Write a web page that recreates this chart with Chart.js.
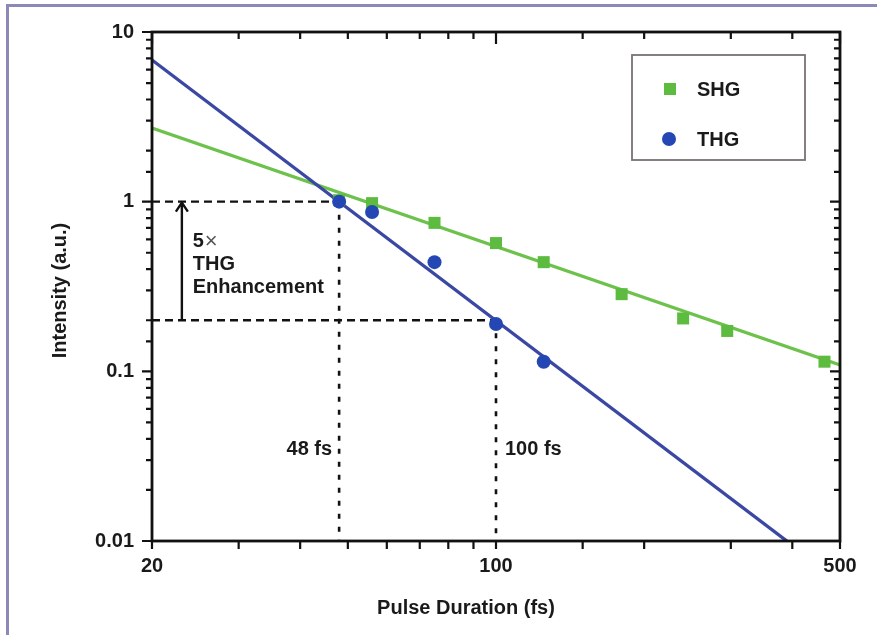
<!DOCTYPE html>
<html>
<head>
<meta charset="utf-8">
<title>Pulse Duration vs Intensity</title>
<script src="https://cdn.jsdelivr.net/npm/chart.js@4.4.1/dist/chart.umd.min.js"></script>
<style>
    html, body { margin: 0; padding: 0; background: #fff; }
    #wrap { position: relative; width: 877px; height: 635px; overflow: hidden; background: #fff; }
    #frame { position: absolute; left: 6px; top: 4px; width: 900px; height: 700px;
             border-top: 3px solid #8a89b8; border-left: 3px solid #8a89b8; }
    canvas { position: absolute; left: 0; top: 0; }
</style>
</head>
<body>
<div id="wrap">
    <div id="frame"></div>
    <canvas id="pulseChart" width="877" height="635"></canvas>
</div>
<script>
// measured points
const shgDuration  = [48, 56, 75, 100, 125, 180, 240, 295, 465];
const shgIntensity = [1.02, 0.98, 0.75, 0.57, 0.44, 0.285, 0.205, 0.173, 0.114];
const thgDuration  = [48, 56, 75, 100, 125];
const thgIntensity = [1.0, 0.87, 0.44, 0.19, 0.114];

// fitted lines (end points)
const shgFitDuration  = [20, 500];
const shgFitIntensity = [2.72, 0.109];
const thgFitDuration  = [20, 390];
const thgFitIntensity = [6.84, 0.01];

// dashed guides: [duration, intensity] pairs
const guideHorizontal = [[[20, 1], [48, 1]], [[20, 0.2], [100, 0.2]]];
const guideVertical   = [[[48, 1], [48, 0.01]], [[100, 0.2], [100, 0.01]]];

// enhancement arrow
const arrowDuration = 23;
const arrowFrom = 0.2;
const arrowTo = 1;

const xTickLabels = [20, 100, 500];
const yTickLabels = [0.01, 0.1, 1, 10];

const SHG_COLOR = '#5dbb3f';
const SHG_LINE = '#6cc24a';
const THG_COLOR = '#2447b3';
const THG_LINE = '#3a48a3';
const FONT = "'Liberation Sans', Arial, Helvetica, sans-serif";

function toPoints(xs, ys) {
    return xs.map((x, i) => ({ x: x, y: ys[i] }));
}

function pairsToPoints(seg) {
    return seg.map(p => ({ x: p[0], y: p[1] }));
}

function isLabel(list, v) {
    return list.some(l => Math.abs(l - v) / l < 1e-6);
}

const guideSets = [];
guideHorizontal.forEach(seg => guideSets.push({
    type: 'line', data: pairsToPoints(seg), borderColor: '#111', borderWidth: 2.4,
    borderDash: [8, 5], pointRadius: 0, fill: false
}));
guideVertical.forEach(seg => guideSets.push({
    type: 'line', data: pairsToPoints(seg), borderColor: '#111', borderWidth: 2.6,
    borderDash: [5, 8], pointRadius: 0, fill: false
}));

// text notes placed in data coordinates
const notes = [
    { text: '48 fs', x: 48, y: 0.0344, align: 'right', dx: -7 },
    { text: '100 fs', x: 100, y: 0.0344, align: 'left', dx: 9 },
    { text: 'THG', x: 24.2, y: 0.424, align: 'left', dx: 0 },
    { text: 'Enhancement', x: 24.2, y: 0.314, align: 'left', dx: 0 }
];

const framePlugin = {
    id: 'framePlugin',
    afterDraw(chart) {
        const ctx = chart.ctx;
        const a = chart.chartArea;
        const xs = chart.scales.x;
        const ys = chart.scales.y;
        ctx.save();

        // arrow
        const ax = xs.getPixelForValue(arrowDuration);
        const ay0 = ys.getPixelForValue(arrowFrom);
        const ay1 = ys.getPixelForValue(arrowTo);
        ctx.strokeStyle = '#111';
        ctx.lineWidth = 2.4;
        ctx.beginPath();
        ctx.moveTo(ax, ay0);
        ctx.lineTo(ax, ay1 + 1);
        ctx.moveTo(ax - 6, ay1 + 10);
        ctx.lineTo(ax, ay1 + 1);
        ctx.lineTo(ax + 6, ay1 + 10);
        ctx.stroke();

        // box
        ctx.lineWidth = 2.8;
        ctx.strokeStyle = '#111';
        ctx.strokeRect(a.left, a.top, a.right - a.left, a.bottom - a.top);

        // tick marks
        ctx.lineWidth = 2.2;
        ctx.beginPath();
        xs.ticks.forEach(t => {
            const px = xs.getPixelForValue(t.value);
            const major = isLabel(xTickLabels, t.value);
            ctx.moveTo(px, a.top);
            ctx.lineTo(px, a.top + (major ? 12 : 7));
            ctx.moveTo(px, a.bottom);
            ctx.lineTo(px, a.bottom + 8);
        });
        ys.ticks.forEach(t => {
            const py = ys.getPixelForValue(t.value);
            const major = isLabel(yTickLabels, t.value);
            ctx.moveTo(a.left, py);
            ctx.lineTo(a.left - (major ? 10 : 6), py);
            ctx.moveTo(a.right, py);
            ctx.lineTo(a.right - (major ? 10 : 6), py);
        });
        ctx.stroke();

        // notes
        ctx.fillStyle = '#1a1a1a';
        ctx.textBaseline = 'middle';
        ctx.font = 'bold 20px ' + FONT;
        notes.forEach(n => {
            ctx.textAlign = n.align;
            ctx.fillText(n.text, xs.getPixelForValue(n.x) + n.dx, ys.getPixelForValue(n.y));
        });
        const fx = xs.getPixelForValue(24.2);
        const fy = ys.getPixelForValue(0.579);
        ctx.textAlign = 'left';
        ctx.fillText('5', fx, fy);
        const w5 = ctx.measureText('5').width;
        ctx.font = '22px ' + FONT;
        ctx.fillStyle = '#555';
        ctx.fillText('\u00d7', fx + w5 + 1, fy);

        // axis titles
        ctx.fillStyle = '#1a1a1a';
        ctx.font = 'bold 20px ' + FONT;
        ctx.textAlign = 'center';
        ctx.fillText('Pulse Duration (fs)', a.left + 314, a.bottom + 67);
        ctx.save();
        ctx.translate(60, (a.top + a.bottom) / 2 + 4);
        ctx.rotate(-Math.PI / 2);
        ctx.fillText('Intensity (a.u.)', 0, 0);
        ctx.restore();

        // legend
        const lx = a.right - 208;
        const ly = a.top + 23;
        ctx.fillStyle = '#fff';
        ctx.fillRect(lx, ly, 173, 105);
        ctx.strokeStyle = '#7a7272';
        ctx.lineWidth = 1.8;
        ctx.strokeRect(lx, ly, 173, 105);
        const items = [chart.data.datasets[1], chart.data.datasets[0]];
        items.forEach((ds, i) => {
            const cy = ly + 34 + i * 50;
            ctx.fillStyle = ds.backgroundColor;
            if (ds.pointStyle === 'rect') {
                ctx.fillRect(lx + 32, cy - 6, 12, 12);
            } else {
                ctx.beginPath();
                ctx.arc(lx + 37, cy, 7, 0, Math.PI * 2);
                ctx.fill();
            }
            ctx.fillStyle = '#1a1a1a';
            ctx.font = 'bold 20px ' + FONT;
            ctx.textAlign = 'left';
            ctx.fillText(ds.label, lx + 65, cy + 1);
        });

        ctx.restore();
    }
};

document.addEventListener('DOMContentLoaded', function() {
    const ctx = document.getElementById('pulseChart');
    Chart.defaults.font.family = FONT;
    Chart.defaults.font.weight = 'bold';
    Chart.defaults.font.size = 20;
    Chart.defaults.color = '#1a1a1a';

    new Chart(ctx, {
        type: 'scatter',
        data: {
            datasets: [{
                label: 'THG',
                data: toPoints(thgDuration, thgIntensity),
                pointStyle: 'circle',
                pointRadius: 7,
                backgroundColor: THG_COLOR,
                borderColor: THG_COLOR,
                borderWidth: 0
            }, {
                label: 'SHG',
                data: toPoints(shgDuration, shgIntensity),
                pointStyle: 'rect',
                pointRadius: 8.5,
                backgroundColor: SHG_COLOR,
                borderColor: SHG_COLOR,
                borderWidth: 0
            }, {
                type: 'line',
                label: 'THG fit',
                data: toPoints(thgFitDuration, thgFitIntensity),
                borderColor: THG_LINE,
                borderWidth: 3.4,
                pointRadius: 0,
                fill: false
            }, {
                type: 'line',
                label: 'SHG fit',
                data: toPoints(shgFitDuration, shgFitIntensity),
                borderColor: SHG_LINE,
                borderWidth: 3.2,
                pointRadius: 0,
                fill: false
            }].concat(guideSets)
        },
        options: {
            responsive: false,
            animation: false,
            layout: { padding: { top: 32, right: 37, left: 0, bottom: 0 } },
            plugins: { legend: { display: false }, tooltip: { enabled: false } },
            scales: {
                x: {
                    type: 'logarithmic',
                    min: 20,
                    max: 500,
                    grid: { display: false, drawTicks: false },
                    border: { display: false },
                    ticks: {
                        autoSkip: false,
                        maxRotation: 0,
                        padding: 13,
                        callback: v => isLabel(xTickLabels, v) ? String(v) : ''
                    },
                    afterFit: s => { s.height = 94; }
                },
                y: {
                    type: 'logarithmic',
                    min: 0.01,
                    max: 10,
                    grid: { display: false, drawTicks: false },
                    border: { display: false },
                    ticks: {
                        autoSkip: false,
                        padding: 18,
                        callback: v => {
                            const l = yTickLabels.find(t => Math.abs(t - v) / t < 1e-6);
                            return l === undefined ? '' : String(l);
                        }
                    },
                    afterFit: s => { s.width = 152; }
                }
            }
        },
        plugins: [framePlugin]
    });
});
</script>
</body>
</html>
